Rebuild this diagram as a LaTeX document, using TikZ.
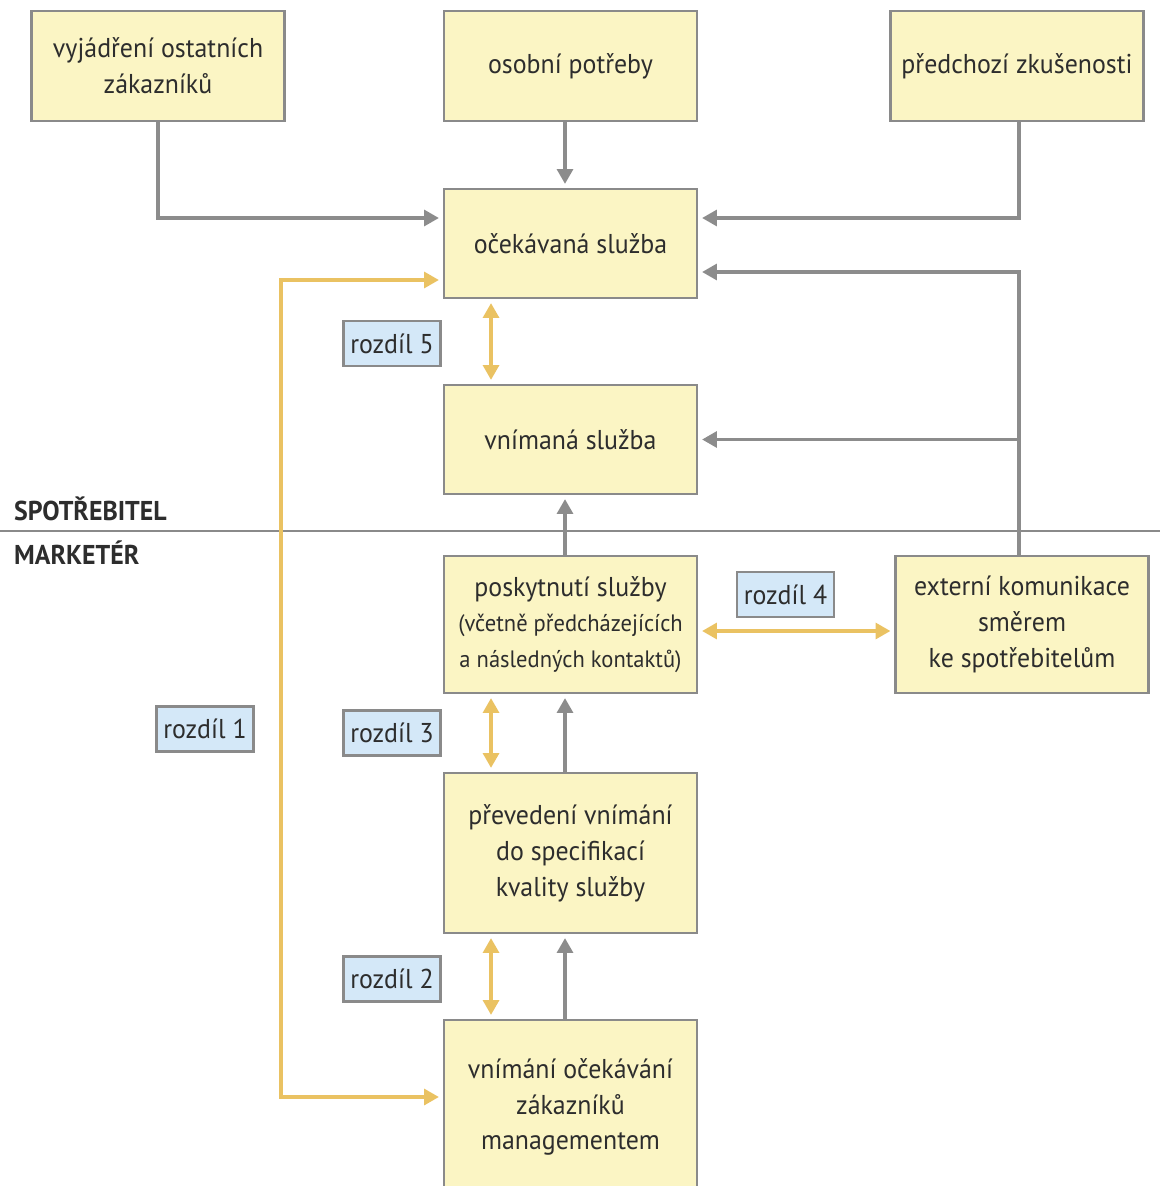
\documentclass[tikz,border=0pt]{standalone}
\usepackage{fontspec}
\setmainfont[FakeStretch=0.95]{PT Sans}
\usepackage{tikz}
\usetikzlibrary{arrows.meta}
\definecolor{boxyellow}{RGB}{251,245,196}
\definecolor{boxblue}{RGB}{212,232,248}
\definecolor{framegray}{RGB}{138,138,138}
\definecolor{arrowgray}{RGB}{140,140,140}
\definecolor{gapyellow}{RGB}{234,194,98}
\definecolor{textgray}{RGB}{45,45,45}
\tikzstyle{yellowbox} = [draw=framegray, fill=boxyellow, line width=1.2pt,
rectangle, align=center, text=textgray, minimum width=5.06cm, inner sep=2pt]
\tikzstyle{gapbox} = [draw=framegray, fill=boxblue, line width=1.2pt,
rectangle, text=textgray, minimum width=1.94cm, minimum height=0.9cm, inner sep=2pt]
\tikzstyle{grayarrow} = [draw=arrowgray, line width=2.1pt,
-{Triangle[length=8.5pt,width=9pt]}, shorten >=0.08cm]
\tikzstyle{gaparrow} = [draw=gapyellow, line width=2.1pt,
{Triangle[length=8.5pt,width=9pt]}-{Triangle[length=8.5pt,width=9pt]},
shorten >=0.08cm, shorten <=0.08cm]

\begin{document}
\begin{tikzpicture}[x=0.02cm, y=-0.02cm, font=\fontsize{15.5}{20.4}\selectfont]
		\useasboundingbox (0,0) rectangle (1160,1186);
		% consumer side
		\node [yellowbox, minimum height=2.2cm] (opinions) at (158,66) {vyjádření ostatních\\zákazníků};
		\node [yellowbox, minimum height=2.2cm] (needs) at (570.5,66) {osobní potřeby};
		\node [yellowbox, minimum height=2.2cm] (past) at (1017,66) {předchozí zkušenosti};
		\node [yellowbox, minimum height=2.18cm] (expected) at (570.5,243.5) {očekávaná služba};
		\node [yellowbox, minimum height=2.18cm] (perceived) at (570.5,439.5) {vnímaná služba};
		% marketer side
		\node [yellowbox, minimum height=2.74cm] (delivery) at (570.5,624.5) {poskytnutí služby\\{\fontsize{13.5}{16.5}\selectfont (včetně předcházejících}\\{\fontsize{13.5}{16.5}\selectfont a následných kontaktů)}};
		\node [yellowbox, minimum height=2.74cm] (extcomm) at (1022,624.5) {externí komunikace\\směrem\\ke spotřebitelům};
		\node [yellowbox, minimum height=3.2cm] (specs) at (570.5,853) {převedení vnímání\\do specifikací\\kvality služby};
		\node [yellowbox, minimum height=3.48cm] (mgmt) at (570.5,1107) {vnímání očekávání\\zákazníků\\managementem};
		% gap labels
		\node [gapbox] (gap5) at (392,343.5) {rozdíl 5};
		\node [gapbox] (gap4) at (785.5,594.5) {rozdíl 4};
		\node [gapbox] (gap3) at (392,733) {rozdíl 3};
		\node [gapbox] (gap1) at (205,729) {rozdíl 1};
		\node [gapbox] (gap2) at (392,979) {rozdíl 2};
		% divider
		\coordinate (divleft) at (0,531);
		\coordinate (divright) at (1160,531);
		\draw [draw=framegray, line width=1pt] (divleft) -- (divright);
		\node [anchor=west, font=\fontsize{15.5}{18}\selectfont\bfseries, text=textgray] (consumer) at (8,509) {SPOTŘEBITEL};
		\node [anchor=west, font=\fontsize{15.5}{18}\selectfont\bfseries, text=textgray] (marketer) at (8,553) {MARKETÉR};
		% gray arrows
		\draw [grayarrow] (opinions.south) |- ([yshift=0.51cm]expected.west);
		\draw [grayarrow] ([xshift=-0.11cm]needs.south) -- ([xshift=-0.11cm]expected.north);
		\draw [grayarrow] ([xshift=0.04cm]past.south) |- ([yshift=0.51cm]expected.east);
		\draw [grayarrow] ([xshift=-0.06cm]extcomm.north) |- ([yshift=-0.57cm]expected.east);
		\draw [grayarrow] ([xshift=-0.06cm]extcomm.north) |- (perceived.east);
		\draw [grayarrow] ([xshift=-0.11cm]delivery.north) -- ([xshift=-0.11cm]perceived.south);
		\draw [grayarrow] ([xshift=-0.11cm]specs.north) -- ([xshift=-0.11cm]delivery.south);
		\draw [grayarrow] ([xshift=-0.11cm]mgmt.north) -- ([xshift=-0.11cm]specs.south);
		% gaps
		\coordinate (gap1bend) at (281,700);
		\draw [gaparrow] ([yshift=-0.73cm]expected.west) -| (gap1bend) |- ([yshift=0.2cm]mgmt.west);
		\draw [gaparrow] ([xshift=-1.59cm]expected.south) -- ([xshift=-1.59cm]perceived.north);
		\draw [gaparrow] ([xshift=-1.59cm]delivery.south) -- ([xshift=-1.59cm]specs.north);
		\draw [gaparrow] ([xshift=-1.59cm]specs.south) -- ([xshift=-1.59cm]mgmt.north);
		\draw [gaparrow] ([yshift=-0.13cm]delivery.east) -- ([yshift=-0.13cm]extcomm.west);
		\end{tikzpicture}
\end{document}
